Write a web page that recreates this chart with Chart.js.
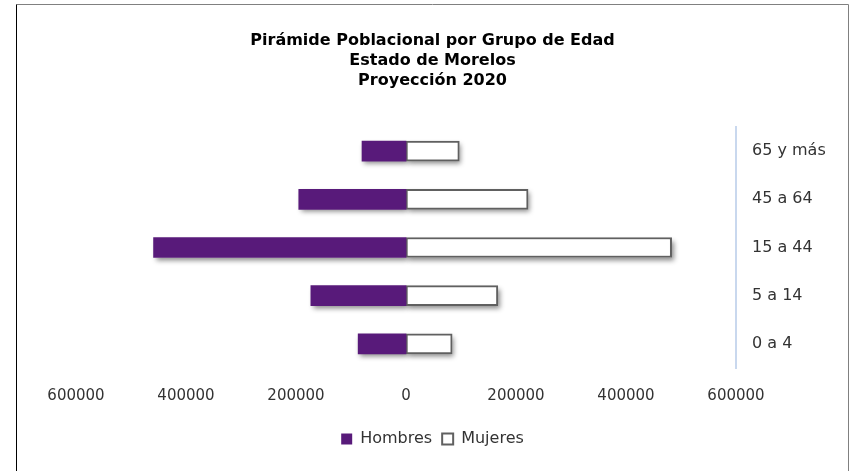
<!DOCTYPE html>
<html>
<head>
<meta charset="utf-8">
<script src="https://cdn.jsdelivr.net/npm/chart.js@4/dist/chart.umd.min.js"></script>
<style>
html,body{margin:0;padding:0;background:#fff;}
#wrap{width:852px;height:471px;position:relative;}
</style>
</head>
<body>
<div id="wrap"><canvas id="c" width="852" height="471"></canvas></div>
<script>
const categories = ['65 y más', '45 a 64', '15 a 44', '5 a 14', '0 a 4'];
const hombres = [80000, 195000, 459000, 173000, 87000];
const mujeres = [97000, 222000, 483000, 167000, 84000];
const titleLines = ['Pirámide Poblacional por Grupo de Edad', 'Estado de Morelos', 'Proyección 2020'];
const seriesNames = ['Hombres', 'Mujeres'];

const FONT = '"DejaVu Sans", sans-serif';

const shadowPlugin = {
  id: 'barShadow',
  beforeDatasetsDraw(chart) {
    const ctx = chart.ctx;
    ctx.save();
    ctx.shadowColor = 'rgba(0,0,0,0.45)';
    ctx.shadowBlur = 5;
    ctx.shadowOffsetX = 2;
    ctx.shadowOffsetY = 3;
    ctx.fillStyle = '#ffffff';
    chart.data.datasets.forEach((ds, i) => {
      const meta = chart.getDatasetMeta(i);
      meta.data.forEach(el => {
        const p = el.getProps(['x', 'y', 'base', 'height'], true);
        const l = Math.min(p.x, p.base), r = Math.max(p.x, p.base);
        ctx.fillRect(l, p.y - p.height / 2, r - l, p.height);
      });
    });
    ctx.restore();
  }
};

const framePlugin = {
  id: 'frame',
  afterDraw(chart) {
    const ctx = chart.ctx;
    ctx.save();
    ctx.lineWidth = 1;
    ctx.strokeStyle = '#808080';
    ctx.beginPath();
    ctx.moveTo(16.5, 4.5); ctx.lineTo(848.5, 4.5); ctx.lineTo(848.5, 471);
    ctx.stroke();
    ctx.strokeStyle = '#000000';
    ctx.beginPath();
    ctx.moveTo(16.5, 4.5); ctx.lineTo(16.5, 471);
    ctx.stroke();
    ctx.restore();
  }
};

new Chart(document.getElementById('c'), {
  type: 'bar',
  data: {
    labels: categories,
    datasets: [
      {
        label: seriesNames[0],
        data: hombres.map(v => -v),
        backgroundColor: '#581A7A',
        borderWidth: 0,
        barThickness: 20
      },
      {
        label: seriesNames[1],
        data: mujeres,
        backgroundColor: '#ffffff',
        borderColor: '#606060',
        borderWidth: 2,
        borderSkipped: false,
        barThickness: 20
      }
    ]
  },
  options: {
    indexAxis: 'y',
    responsive: false,
    animation: false,
    devicePixelRatio: 1,
    layout: { padding: { left: 16, right: 3, top: 0, bottom: 14 } },
    plugins: {
      title: {
        display: true,
        text: titleLines,
        color: '#000000',
        font: { family: FONT, size: 16, weight: 'bold', lineHeight: 1.25 },
        padding: { top: 31, bottom: 36 }
      },
      legend: {
        position: 'bottom',
        labels: {
          color: '#333333',
          font: { family: FONT, size: 16 },
          boxWidth: 11,
          boxHeight: 11,
          padding: 10
        }
      },
      tooltip: { enabled: false }
    },
    scales: {
      x: {
        stacked: true,
        min: -600000,
        max: 600000,
        ticks: {
          stepSize: 200000,
          color: '#333333',
          font: { family: FONT, size: 15 },
          padding: 19,
          maxRotation: 0,
          callback: v => String(Math.abs(v))
        },
        grid: { display: false, drawTicks: false },
        border: { display: false },
        afterFit: s => { s.height = 53; }
      },
      y: {
        stacked: true,
        position: 'right',
        ticks: {
          color: '#333333',
          font: { family: FONT, size: 16 },
          padding: 16
        },
        grid: { display: false, drawTicks: false },
        border: { display: true, color: '#C9D8EE', width: 2 },
        afterFit: s => { s.width = 113; }
      },
      yLeft: {
        type: 'linear',
        position: 'left',
        display: true,
        ticks: { display: false },
        grid: { display: false, drawTicks: false },
        border: { display: false },
        afterFit: s => { s.width = 60; }
      }
    }
  },
  plugins: [shadowPlugin, framePlugin]
});
</script>
</body>
</html>
